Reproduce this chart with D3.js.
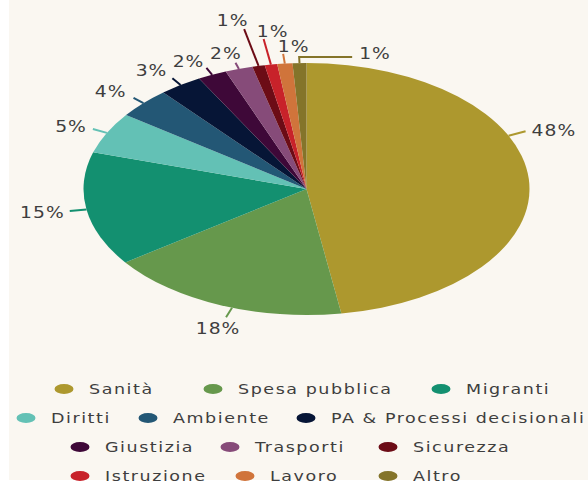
<!DOCTYPE html>
<html>
<head>
<meta charset="utf-8">
<script src="https://cdn.jsdelivr.net/npm/d3@7"></script>
<style>
  html, body { margin: 0; padding: 0; background: #ffffff; }
  svg { display: block; }
  text { font-family: "DejaVu Sans", sans-serif; fill: #3e3e3e; }
</style>
</head>
<body>
<svg id="chart" width="588" height="484"></svg>
<script>
// data (shares, percent)
const categories = ['Sanità', 'Spesa pubblica', 'Migranti', 'Diritti', 'Ambiente',
  'PA & Processi decisionali', 'Giustizia', 'Trasporti', 'Sicurezza', 'Istruzione', 'Lavoro', 'Altro'];
const shares = [47.5, 17.6, 14.6, 5.3, 3.9, 3.1, 2.1, 2.0, 0.9, 0.9, 1.1, 1.0];
const colors = ['#ad982e', '#66984c', '#139070', '#63c1b5', '#235775', '#061536',
  '#3e0838', '#864b79', '#6c0c16', '#c8222a', '#d0743b', '#84742a'];

// label placement: where on the slice, leader length, text offset
const labelLayout = [
  { at: 0.38, k: 1.084, anchor: 'start', dx: 6, dy: -1 },
  { at: 0.45, k: 1.08, anchor: 'middle', dx: -8, dy: 11 },
  { at: 0.5, k: 1.076, anchor: 'end', dx: -5, dy: 2 },
  { at: 0.5, k: 1.07, anchor: 'end', dx: -6, dy: -2 },
  { at: 0.5, k: 1.061, anchor: 'end', dx: -7, dy: -6 },
  { at: 0.5, k: 1.065, anchor: 'end', dx: -5, dy: -8 },
  { at: 0.5, k: 1.061, anchor: 'end', dx: -2, dy: -6 },
  { at: 0.5, k: 1.051, anchor: 'middle', dx: -9.5, dy: -9 },
  { at: 0.5, k: 1.3, anchor: 'middle', dx: -11.5, dy: -8 },
  { at: 0.5, k: 1.206, anchor: 'middle', dx: 9, dy: -7 },
  { at: 0.5, k: 1.077, anchor: 'middle', dx: 10.5, dy: -7 },
  { at: 0.5, k: 1.048, anchor: 'start', dx: 7, dy: -3, elbow: 53 }
];

// legend rows: category index + dot x
const legendRows = [
  { y: 389, items: [[0, 64], [1, 213], [2, 441]] },
  { y: 418, items: [[3, 26], [4, 148], [5, 306]] },
  { y: 447, items: [[6, 80], [7, 230], [8, 388]] },
  { y: 476, items: [[9, 80], [10, 245], [11, 388]] }
];

const cx = 306.5, cy = 189, rx = 223, ry = 126;
const textScale = 1.25;

const svg = d3.select('#chart');

svg.append('rect')
  .attr('x', 9).attr('y', 0)
  .attr('width', 579).attr('height', 480)
  .attr('fill', '#faf7f1');

const data = categories.map((name, i) => ({ name, value: shares[i], color: colors[i] }));
const total = d3.sum(shares);

let sliceGenerator = d3.pie().sort(null).value((d) => d.value);
let arcData = sliceGenerator(data);

let arcGenerator = d3.arc()
  .innerRadius(0)
  .outerRadius(ry);

// the pie is an ellipse in the picture, so stretch a round one
const pie = svg.append('g')
  .attr('transform', `translate(${cx},${cy}) scale(${rx / ry},1)`);

pie.selectAll('path')
  .data(arcData)
  .join('path')
  .attr('d', arcGenerator)
  .attr('fill', (d) => d.data.color);

function ellipsePoint(a, k) {
  return [cx + k * rx * Math.sin(a), cy - k * ry * Math.cos(a)];
}

const labels = svg.append('g');

arcData.forEach((d, i) => {
  const lay = labelLayout[i];
  const a = d.startAngle + lay.at * (d.endAngle - d.startAngle);
  const p0 = ellipsePoint(a, 1);
  let p1 = ellipsePoint(a, lay.k);
  const pts = [p0, p1];
  if (lay.elbow) {
    p1 = [p1[0] + lay.elbow, p1[1]];
    pts.push(p1);
  }

  labels.append('path')
    .attr('d', d3.line()(pts))
    .attr('fill', 'none')
    .attr('stroke', d.data.color)
    .attr('stroke-width', 2);

  labels.append('text')
    .attr('transform', `translate(${p1[0] + lay.dx},${p1[1] + lay.dy}) scale(${textScale},1)`)
    .attr('text-anchor', lay.anchor)
    .attr('dy', '0.36em')
    .attr('font-size', 15)
    .attr('letter-spacing', '0.8px')
    .text(Math.round(d.data.value / total * 100) + '%');
});

const legend = svg.append('g');

legendRows.forEach((row) => {
  row.items.forEach(([idx, x]) => {
    legend.append('ellipse')
      .attr('cx', x).attr('cy', row.y)
      .attr('rx', 9.5).attr('ry', 5)
      .attr('fill', colors[idx]);
    legend.append('text')
      .attr('transform', `translate(${x + 25},${row.y}) scale(${textScale},1)`)
      .attr('dy', '0.36em')
      .attr('font-size', 14)
      .attr('letter-spacing', '1.25px')
      .text(categories[idx]);
  });
});
</script>
</body>
</html>
